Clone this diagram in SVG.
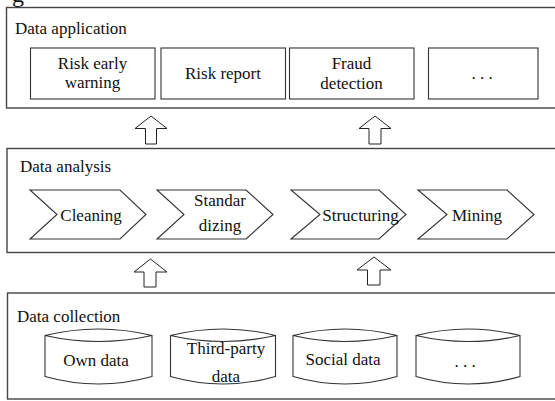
<svg xmlns="http://www.w3.org/2000/svg" width="555" height="401" viewBox="0 0 555 401">
<style>
text{font-family:'Liberation Serif','Times New Roman',serif;font-size:17px;fill:#111}
.c{text-anchor:middle}
.panel{fill:#fff;stroke:#444;stroke-width:1.4}
.box{fill:#fff;stroke:#333;stroke-width:1.1}
.arr{fill:#fff;stroke:#222;stroke-width:1}
</style>
<rect width="555" height="401" fill="#fff"/>
<text x="12" y="2" style="font-size:24px">g</text>

<g id="panel-application">
<rect class="panel" x="6.5" y="7.5" width="560" height="100.5"/>
<text x="15" y="34">Data application</text>
</g>
<g id="app-risk-warning">
<rect class="box" x="30.5" y="48" width="124.5" height="51"/>
<text class="c" x="92.5" y="69">Risk early</text>
<text class="c" x="92.5" y="88">warning</text>
</g>
<g id="app-risk-report">
<rect class="box" x="161" y="48" width="124.5" height="51"/>
<text class="c" x="223" y="79">Risk report</text>
</g>
<g id="app-fraud">
<rect class="box" x="289.5" y="48" width="124.5" height="51"/>
<text class="c" x="351.5" y="68.5">Fraud</text>
<text class="c" x="351.5" y="88.5">detection</text>
</g>
<g id="app-more">
<rect class="box" x="428.5" y="48" width="109.5" height="51"/>
<text class="c" x="482" y="79">. . .</text>
</g>

<g id="panel-analysis">
<rect class="panel" x="7" y="148.5" width="560" height="104"/>
<text x="20" y="172">Data analysis</text>
</g>
<g id="an-cleaning">
<polygon class="box" points="30,190 120,190 146,214.5 120,239 30,239 57,214.5"/>
<text class="c" x="91" y="221">Cleaning</text>
</g>
<g id="an-standardizing">
<polygon class="box" points="157,190 246,190 273,214.5 246,239 157,239 184,214.5"/>
<text class="c" x="220" y="206">Standar</text>
<text class="c" x="220" y="231">dizing</text>
</g>
<g id="an-structuring">
<polygon class="box" points="291,190 379,190 406,214.5 379,239 291,239 320,214.5"/>
<text class="c" x="360.5" y="221">Structuring</text>
</g>
<g id="an-mining">
<polygon class="box" points="418,190 507,190 534,214.5 507,239 418,239 447,214.5"/>
<text class="c" x="477" y="221">Mining</text>
</g>

<g id="panel-collection">
<rect class="panel" x="7.5" y="293" width="560" height="106"/>
<text x="17" y="322">Data collection</text>
</g>
<g id="col-own">
<path class="box" d="M45,335.5 Q98.5,322.5 152,335.5 L152,376.5 Q98.5,391.5 45,376.5 Z M45,335.5 Q98.5,347.5 152,335.5"/>
<text class="c" x="96" y="366">Own data</text>
</g>
<g id="col-third">
<path class="box" d="M170.5,335.5 Q223,322.5 275.5,335.5 L275.5,376.5 Q223,391.5 170.5,376.5 Z M170.5,335.5 Q223,347.5 275.5,335.5"/>
<text class="c" x="226" y="354">Third-party</text>
<text class="c" x="226" y="382">data</text>
</g>
<g id="col-social">
<path class="box" d="M293,335.5 Q345,322.5 397,335.5 L397,376.5 Q345,391.5 293,376.5 Z M293,335.5 Q345,347.5 397,335.5"/>
<text class="c" x="343" y="365">Social data</text>
</g>
<g id="col-more">
<path class="box" d="M416,335.5 Q468,322.5 520,335.5 L520,376.5 Q468,391.5 416,376.5 Z M416,335.5 Q468,347.5 520,335.5"/>
<text class="c" x="465" y="367">. . .</text>
</g>

<g id="connectors">
<path class="arr" d="M151,116 L167,128.5 L156.5,128.5 L156.5,144 L145.5,144 L145.5,128.5 L135,128.5 Z"/>
<path class="arr" d="M375,116 L391,128.5 L381,128.5 L381,144 L369,144 L369,128.5 L359,128.5 Z"/>
<path class="arr" d="M150.5,259 L167,272 L156,272 L156,287 L144,287 L144,272 L134,272 Z"/>
<path class="arr" d="M374,257 L391,270 L380,270 L380,285 L367.5,285 L367.5,270 L357,270 Z"/>
</g>
</svg>
